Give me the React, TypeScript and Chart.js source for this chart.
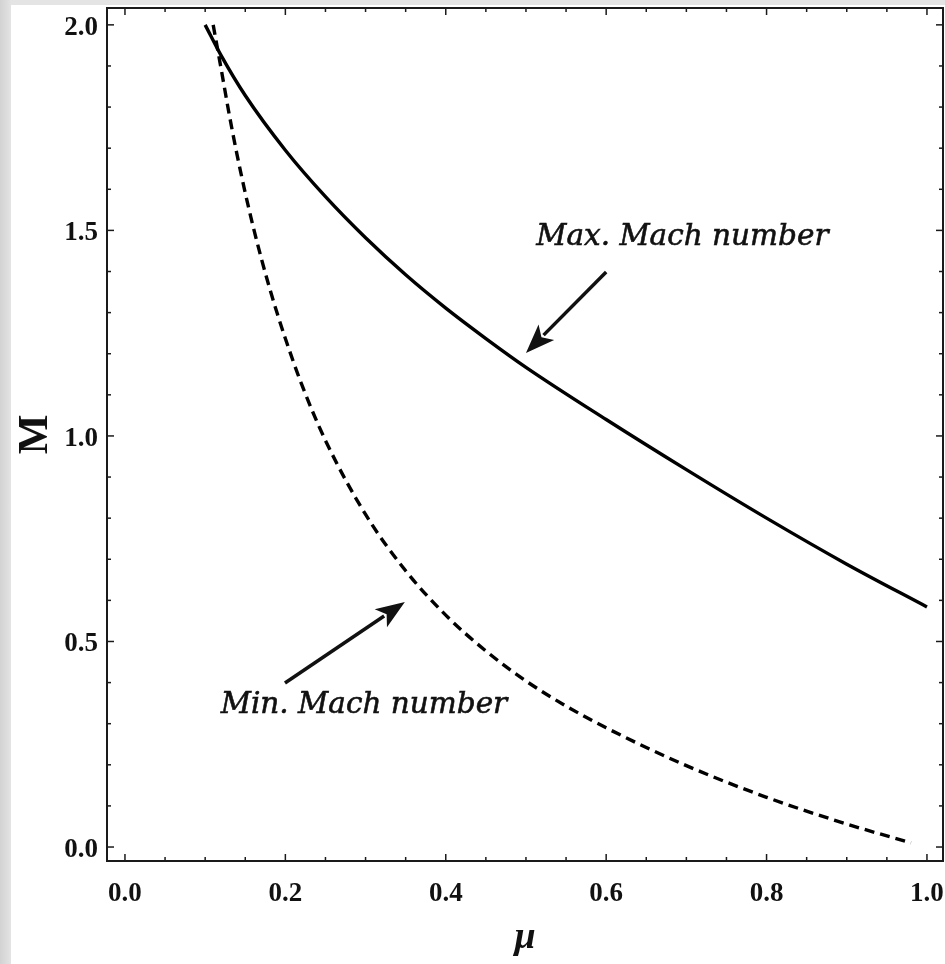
import React, { useEffect, useRef } from 'react';
import { Chart, registerables } from 'chart.js';

Chart.register(...registerables);

// Solid curve: maximum Mach number
const MU_MAX = [0.10, 0.12, 0.15, 0.20, 0.25, 0.30, 0.35, 0.40, 0.45, 0.50, 0.60, 0.70, 0.80, 0.90, 1.00];
const M_MAX = [2.000, 1.925, 1.828, 1.695, 1.582, 1.482, 1.392, 1.311, 1.237, 1.167, 1.040, 0.918, 0.800, 0.688, 0.584];

// Dashed curve: minimum Mach number
const MU_MIN = [0.11, 0.12, 0.13, 0.14, 0.15, 0.16, 0.17, 0.18, 0.19, 0.20, 0.22, 0.25, 0.30, 0.35, 0.40, 0.45, 0.50, 0.55, 0.60, 0.70, 0.80, 0.90, 0.98];
const M_MIN = [2.000, 1.892, 1.782, 1.682, 1.591, 1.508, 1.432, 1.362, 1.297, 1.237, 1.127, 0.989, 0.809, 0.672, 0.564, 0.477, 0.404, 0.343, 0.290, 0.198, 0.121, 0.056, 0.010];

const X_TICK_LABELS = ['0.0', '0.2', '0.4', '0.6', '0.8', '1.0'];
const Y_TICK_LABELS = ['0.0', '0.5', '1.0', '1.5', '2.0'];

const X_RANGE = [-0.0224, 1.02];
const Y_RANGE = [-0.034, 2.041];

// Annotations (data coordinates)
const NOTE_TEXTS = ['Max. Mach number', 'Min. Mach number'];
const NOTE_MU = [0.695, 0.298];
const NOTE_M = [1.465, 0.326];
const ARROW_FROM_MU = [0.600, 0.1995];
const ARROW_FROM_M = [1.399, 0.399];
const ARROW_TO_MU = [0.500, 0.349];
const ARROW_TO_M = [1.202, 0.596];

const SERIF = '"Liberation Serif", "Times New Roman", serif';

function labelFor(v: number, list: string[]): string {
  const hit = list.find((l) => Math.abs(parseFloat(l) - v) < 1e-6);
  return hit ?? '';
}

const framePlugin = {
  id: 'frameAndNotes',
  afterDatasetsDraw(chart: any) {
    const { ctx, chartArea } = chart;
    const { left, right, top, bottom } = chartArea;
    const xs = chart.scales.x;
    const ys = chart.scales.y;
    ctx.save();
    ctx.strokeStyle = '#1a1a1a';
    ctx.lineWidth = 1.5;
    const seg = (x1: number, y1: number, x2: number, y2: number) => {
      ctx.beginPath();
      ctx.moveTo(x1, y1);
      ctx.lineTo(x2, y2);
      ctx.stroke();
    };
    xs.ticks.forEach((t: any) => {
      const px = xs.getPixelForValue(t.value);
      const len = t.label ? 7 : 4;
      seg(px, bottom, px, bottom - len);
      seg(px, top, px, top + len);
    });
    ys.ticks.forEach((t: any) => {
      const py = ys.getPixelForValue(t.value);
      const len = t.label ? 7 : 4;
      seg(left, py, left + len, py);
      seg(right, py, right - len, py);
    });
    ctx.lineWidth = 2;
    ctx.strokeRect(left, top, right - left, bottom - top);

    // annotations
    ctx.fillStyle = '#111';
    ctx.strokeStyle = '#111';
    ctx.font = 'italic 29.5px "DejaVu Serif", serif';
    ctx.textAlign = 'center';
    ctx.textBaseline = 'alphabetic';
    ctx.lineWidth = 0.6;
    NOTE_TEXTS.forEach((txt, i) => {
      const tx = xs.getPixelForValue(NOTE_MU[i]);
      const ty = ys.getPixelForValue(NOTE_M[i]);
      ctx.fillText(txt, tx, ty);
      ctx.strokeText(txt, tx, ty);
    });
    ARROW_FROM_MU.forEach((_, i) => {
      const x1 = xs.getPixelForValue(ARROW_FROM_MU[i]);
      const y1 = ys.getPixelForValue(ARROW_FROM_M[i]);
      const x2 = xs.getPixelForValue(ARROW_TO_MU[i]);
      const y2 = ys.getPixelForValue(ARROW_TO_M[i]);
      const ang = Math.atan2(y2 - y1, x2 - x1);
      const hl = 29;
      const hw = 11;
      const bx = x2 - hl * Math.cos(ang);
      const by = y2 - hl * Math.sin(ang);
      ctx.lineWidth = 3.5;
      seg(x1, y1, bx + 4 * Math.cos(ang), by + 4 * Math.sin(ang));
      ctx.beginPath();
      ctx.moveTo(x2, y2);
      ctx.lineTo(bx + hw * Math.sin(ang), by - hw * Math.cos(ang));
      ctx.lineTo(x2 - (hl - 7) * Math.cos(ang), y2 - (hl - 7) * Math.sin(ang));
      ctx.lineTo(bx - hw * Math.sin(ang), by + hw * Math.cos(ang));
      ctx.closePath();
      ctx.fill();
    });
    ctx.restore();
  },
};

const zeroPad = (s: any) => {
  s.paddingLeft = 0;
  s.paddingRight = 0;
  s.paddingTop = 0;
  s.paddingBottom = 0;
};

export default function App() {
  const ref = useRef<HTMLCanvasElement>(null);
  useEffect(() => {
    const canvas = ref.current;
    if (!canvas) return;
    const chart = new Chart(canvas, {
      type: 'line',
      data: {
        datasets: [
          {
            label: 'Max. Mach number',
            data: MU_MAX.map((x, i) => ({ x, y: M_MAX[i] })),
            borderColor: '#000',
            borderWidth: 3.4,
            pointRadius: 0,
            cubicInterpolationMode: 'monotone',
            fill: false,
          },
          {
            label: 'Min. Mach number',
            data: MU_MIN.map((x, i) => ({ x, y: M_MIN[i] })),
            borderColor: '#000',
            borderWidth: 3.4,
            borderDash: [10, 6],
            pointRadius: 0,
            cubicInterpolationMode: 'monotone',
            fill: false,
          },
        ],
      },
      options: {
        responsive: false,
        animation: false,
        layout: { padding: { left: 0, right: 2, top: 8, bottom: 0 } },
        plugins: { legend: { display: false }, tooltip: { enabled: false } },
        scales: {
          x: {
            type: 'linear',
            min: X_RANGE[0],
            max: X_RANGE[1],
            grid: { display: false, drawTicks: false },
            border: { display: false },
            ticks: {
              stepSize: 0.05,
              includeBounds: false,
              autoSkip: false,
              maxRotation: 0,
              padding: 17,
              color: '#111',
              font: { family: SERIF, weight: 'bold', size: 27 },
              callback: (v: any) => labelFor(Number(v), X_TICK_LABELS),
            },
            title: {
              display: true,
              text: 'μ',
              color: '#111',
              font: { family: SERIF, weight: 'bold', style: 'italic', size: 38 },
              padding: { top: 0, bottom: 3 },
            },
            afterFit: (s: any) => {
              s.height = 103;
              zeroPad(s);
            },
          },
          y: {
            type: 'linear',
            min: Y_RANGE[0],
            max: Y_RANGE[1],
            grid: { display: false, drawTicks: false },
            border: { display: false },
            ticks: {
              stepSize: 0.1,
              includeBounds: false,
              autoSkip: false,
              padding: 9,
              labelOffset: 3,
              color: '#111',
              font: { family: SERIF, weight: 'bold', size: 27 },
              callback: (v: any) => labelFor(Number(v), Y_TICK_LABELS),
            },
            title: {
              display: true,
              text: 'M',
              color: '#111',
              font: { family: SERIF, weight: 'bold', size: 42 },
              padding: { top: 11, bottom: 0 },
            },
            afterFit: (s: any) => {
              s.width = 107;
              zeroPad(s);
            },
          },
        },
      },
      plugins: [framePlugin],
    } as any);
    return () => chart.destroy();
  }, []);

  return (
    <div
      style={{
        position: 'absolute',
        left: 0,
        top: 0,
        width: 945,
        height: 964,
        background: 'linear-gradient(to right, #d2d2d2, #e4e4e4 11px, #e4e4e4)',
        overflow: 'hidden',
      }}
    >
      <div style={{ position: 'absolute', left: 11, top: 5, right: 0, bottom: 0, background: '#fff' }} />
      <canvas ref={ref} width={945} height={964} style={{ position: 'absolute', left: 0, top: 0 }} />
    </div>
  );
}
